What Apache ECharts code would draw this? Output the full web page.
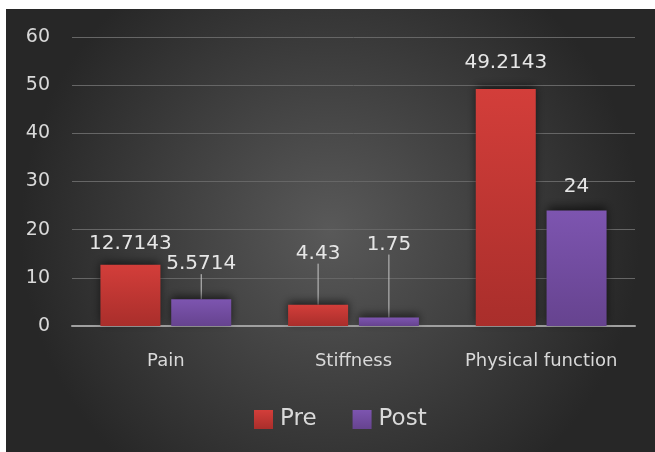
<!DOCTYPE html>
<html><head><meta charset="utf-8">
<script src="https://cdn.jsdelivr.net/npm/echarts@6/dist/echarts.min.js"></script>
<style>html,body{margin:0;padding:0;background:#fff;}#c{width:655px;height:452px;}</style>
</head><body><div id="c"></div>
<script>
var categories = ['Pain', 'Stiffness', 'Physical function'];
var preValues = [12.7143, 4.43, 49.2143];
var postValues = [5.5714, 1.75, 24];
var preLabels = ['12.7143', '4.43', '49.2143'];
var postLabels = ['5.5714', '1.75', '24'];
var yTicks = [0, 10, 20, 30, 40, 50, 60];

var preDy = [-6, -36, -11];
var postDy = [-20, -58, -9];
var preLine = [false, true, false];
var postLine = [true, true, false];

function items(vals, labels, lines) {
  return vals.map(function (v, i) {
    return { value: v, labelText: labels[i], labelLine: { show: lines[i] } };
  });
}

var chart = echarts.init(document.getElementById('c'));
var font = 'DejaVu Sans';
var shadow = { shadowColor: 'rgba(0,0,0,0.6)', shadowBlur: 9, shadowOffsetY: -3 };
chart.setOption({
  backgroundColor: '#ffffff',
  animation: false,
  graphic: [{
    type: 'rect', z: -10, silent: true,
    shape: { x: 6, y: 9, width: 649, height: 443 },
    style: { fill: new echarts.graphic.RadialGradient(0.5, 0.5, 0.7, [
      { offset: 0, color: '#595959' }, { offset: 1, color: '#272727' }]) }
  }],
  grid: { left: 72, right: 20, top: 37, bottom: 126, containLabel: false },
  legend: {
    data: ['Pre', 'Post'], bottom: 16, left: 249,
    itemWidth: 19, itemHeight: 19, itemGap: 36, icon: 'rect',
    textStyle: { color: '#d9d9d9', fontSize: 23, fontFamily: font, padding: [0, 0, 0, 2] }
  },
  xAxis: {
    type: 'category', data: categories,
    axisLine: { lineStyle: { color: '#a0a0a0', width: 2 } },
    axisTick: { show: false },
    axisLabel: { color: '#d9d9d9', fontSize: 18, fontFamily: font, margin: 26, interval: 0 }
  },
  yAxis: {
    type: 'value', min: yTicks[0], max: yTicks[yTicks.length - 1], interval: 10,
    axisLine: { show: false }, axisTick: { show: false },
    axisLabel: { color: '#d9d9d9', fontSize: 19, fontFamily: font, margin: 22 },
    splitLine: { lineStyle: { color: '#666666', width: 1 } }
  },
  series: [{
    name: 'Pre', type: 'bar', barWidth: 60, barGap: '18%',
    data: items(preValues, preLabels, preLine),
    itemStyle: Object.assign({ color: new echarts.graphic.LinearGradient(0, 0, 0, 1, [
      { offset: 0, color: '#d33e3a' }, { offset: 1, color: '#a92e2b' }]) }, shadow),
    label: { show: true, position: 'top', color: '#e6e6e6', fontSize: 20, fontFamily: font, distance: 5,
      formatter: function (p) { return p.data.labelText; } },
    labelLine: { show: false, lineStyle: { color: '#c8c8c8', width: 1 } },
    labelLayout: function (p) { return { dy: preDy[p.dataIndex] }; }
  }, {
    name: 'Post', type: 'bar', barWidth: 60,
    data: items(postValues, postLabels, postLine),
    itemStyle: Object.assign({ color: new echarts.graphic.LinearGradient(0, 0, 0, 1, [
      { offset: 0, color: '#7d55b0' }, { offset: 1, color: '#66438f' }]) }, shadow),
    label: { show: true, position: 'top', color: '#e6e6e6', fontSize: 20, fontFamily: font, distance: 5,
      formatter: function (p) { return p.data.labelText; } },
    labelLine: { show: false, lineStyle: { color: '#c8c8c8', width: 1 } },
    labelLayout: function (p) { return { dy: postDy[p.dataIndex] }; }
  }]
});
</script></body></html>
